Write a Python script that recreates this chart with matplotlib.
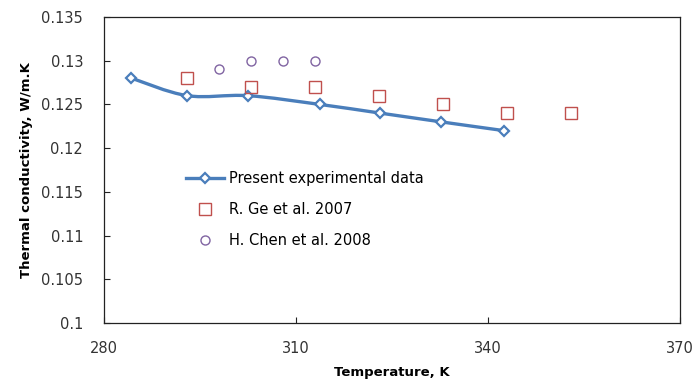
import numpy as np
import matplotlib
matplotlib.use("Agg")
import matplotlib.pyplot as plt
from matplotlib.path import Path
from matplotlib.patches import PathPatch
from matplotlib.lines import Line2D

# data
present_t = [284.3, 293.0, 302.5, 313.7, 323.2, 332.7, 342.5]
present_k = [0.128, 0.126, 0.126, 0.125, 0.124, 0.123, 0.122]

ge_t = [293, 303, 313, 323, 333, 343, 353]
ge_k = [0.128, 0.127, 0.127, 0.126, 0.125, 0.124, 0.124]

chen_t = [298, 303, 308, 313]
chen_k = [0.129, 0.130, 0.130, 0.130]

x_ticks = [280, 310, 340, 370]
y_ticks = [0.1, 0.105, 0.11, 0.115, 0.12, 0.125, 0.13, 0.135]

blue = "#4a7ebb"
red = "#c0504d"
purple = "#8064a2"

plt.rcParams["font.family"] = ["DejaVu Sans"]

fig = plt.figure(figsize=(6.95, 3.83), dpi=100)
ax = fig.add_axes([0.1496, 0.1567, 0.8288, 0.799])


def smooth_path(xs, ys):
    # Excel style smoothed line: cubic bezier through every point
    pts = np.column_stack([xs, ys])
    verts = [pts[0]]
    codes = [Path.MOVETO]
    n = len(pts)
    for i in range(n - 1):
        p0 = pts[i - 1] if i > 0 else pts[i]
        p1 = pts[i]
        p2 = pts[i + 1]
        p3 = pts[i + 2] if i + 2 < n else pts[i + 1]
        c1 = p1 + (p2 - p0) / 6.0
        c2 = p2 - (p3 - p1) / 6.0
        verts += [c1, c2, p2]
        codes += [Path.CURVE4] * 3
    return Path(verts, codes)


ax.add_patch(PathPatch(smooth_path(present_t, present_k), facecolor="none",
                       edgecolor=blue, lw=2.4, zorder=2))
ax.plot(present_t, present_k, ls="none", marker="D", ms=5.5, mfc="white",
        mec=blue, mew=1.6, zorder=3)
ax.plot(ge_t, ge_k, ls="none", marker="s", ms=9, mfc="none", mec=red,
        mew=1.0, zorder=3)
ax.plot(chen_t, chen_k, ls="none", marker="o", ms=6.5, mfc="none",
        mec=purple, mew=1.0, zorder=3)

ax.set_xlim(280, 370)
ax.set_ylim(0.1, 0.135)
ax.set_xticks(x_ticks)
ax.set_yticks(y_ticks)
ax.set_yticklabels([f"{v:g}" for v in y_ticks])
ax.tick_params(direction="in", length=4, width=0.8, labelsize=10.5,
               colors="#222222", labelcolor="#333333", pad=15)
ax.tick_params(axis="x", pad=13)
for s in ax.spines.values():
    s.set_linewidth(0.9)
    s.set_color("#222222")

ax.set_xlabel("Temperature, K", fontsize=9.5, fontweight="bold", labelpad=7)
ax.set_ylabel("Thermal conductivity, W/m.K", fontsize=9.5, fontweight="bold",
              labelpad=6)

handles = [
    Line2D([], [], color=blue, lw=2.4, marker="D", ms=5.5, mfc="white",
           mec=blue, mew=1.6),
    Line2D([], [], ls="none", marker="s", ms=9, mfc="none", mec=red, mew=1.0),
    Line2D([], [], ls="none", marker="o", ms=6.5, mfc="none", mec=purple,
           mew=1.0),
]
labels = ["Present experimental data", "R. Ge et al. 2007",
          "H. Chen et al. 2008"]
ax.legend(handles, labels, frameon=False, fontsize=10.5, handlelength=2.6,
          handletextpad=0.3, labelspacing=1.1,
          loc="upper left", bbox_to_anchor=(0.12, 0.54))

fig.savefig("out.png", dpi=100)
